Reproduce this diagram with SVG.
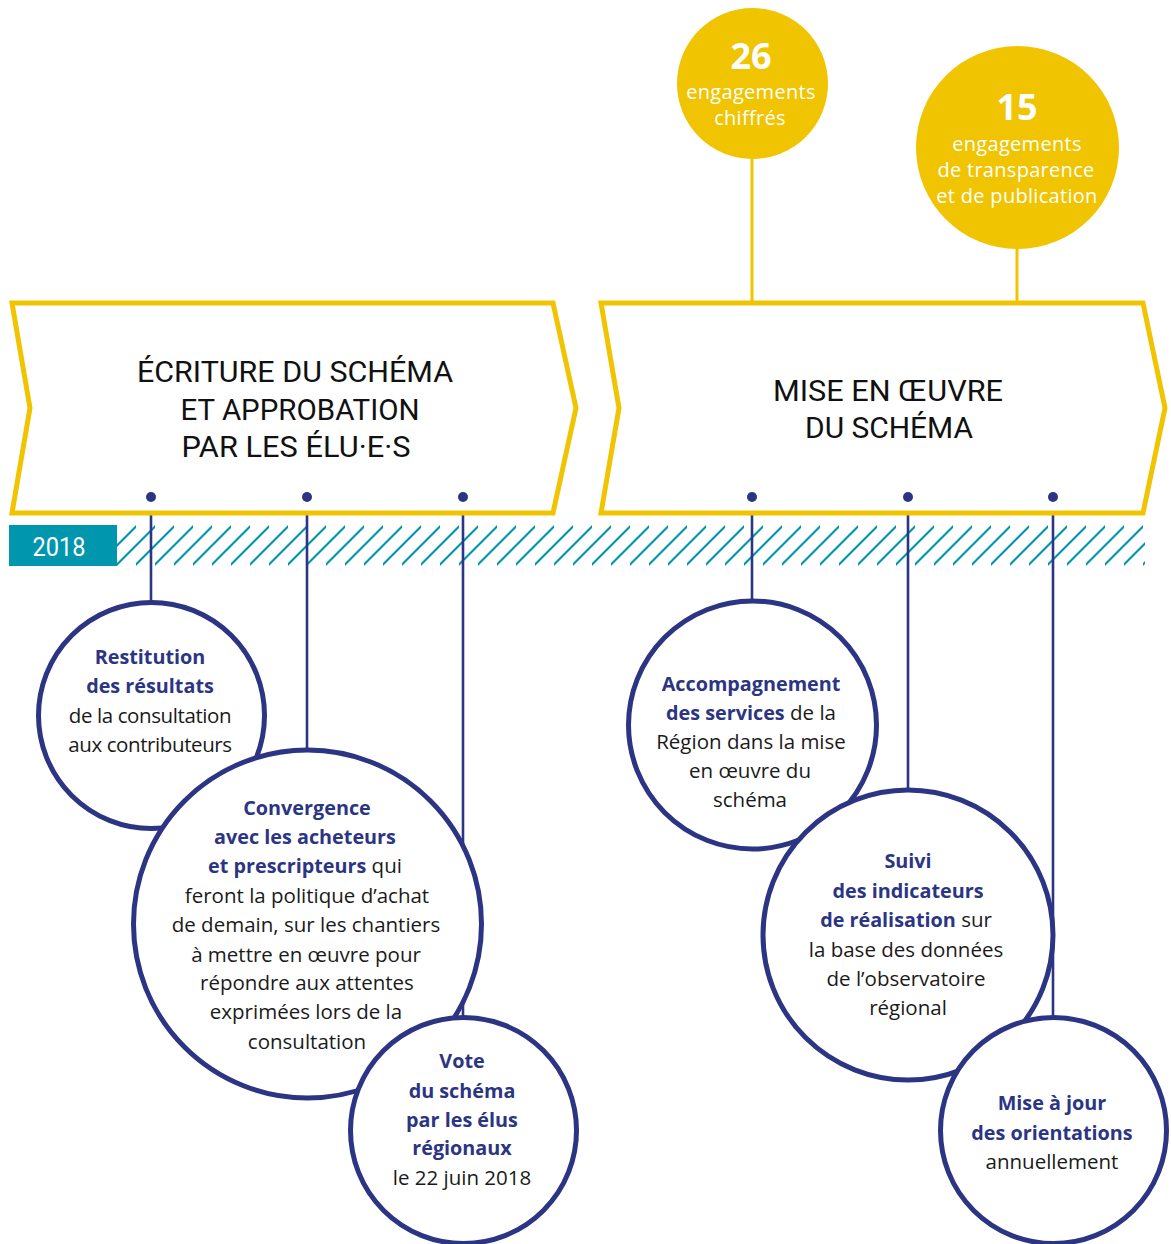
<svg xmlns="http://www.w3.org/2000/svg" width="1171" height="1244" viewBox="0 0 1171 1244">
<style>
.chev{fill:#fff;stroke:#f0c400;stroke-width:5;stroke-linejoin:miter}
.title{font-family:Roboto,"Liberation Sans",sans-serif;font-size:30px;fill:#111;text-anchor:middle}
.ycirc{fill:#f0c400}
.yline{stroke:#f0c400;stroke-width:3;fill:none}
.nline{stroke:#2b3583;stroke-width:2.6;fill:none}
.dot{fill:#2b3583}
.ncirc{fill:#fff;stroke:#2b3583;stroke-width:5}
.big{font-family:"Open Sans","Noto Sans",sans-serif;font-weight:bold;font-size:36px;fill:#fff;text-anchor:middle}
.ytxt{font-family:"Open Sans","Noto Sans",sans-serif;font-size:20px;letter-spacing:0.3px;fill:#fff;text-anchor:middle}
.t{font-family:"Open Sans","Noto Sans",sans-serif;font-size:20.5px;fill:#1a1a1a;text-anchor:middle}
.b{font-weight:bold;fill:#2b3583;font-size:19.8px}
.tight{letter-spacing:-0.4px}
</style>
<defs>
<pattern id="hatch" patternUnits="userSpaceOnUse" x="117" y="525" width="19" height="41">
<line x1="-20.5" y1="41" x2="20.5" y2="0" stroke="#0096ae" stroke-width="2"/>
<line x1="-1.5" y1="41" x2="39.5" y2="0" stroke="#0096ae" stroke-width="2"/>
</pattern>
</defs>

<g id="band">
<rect x="117" y="525" width="1028" height="41" fill="url(#hatch)"/>
<rect x="9" y="525" width="108" height="41" fill="#0096ae"/>
<text x="59" y="556" font-family="Roboto,'Liberation Sans',sans-serif" font-size="25" fill="#fff" text-anchor="middle" textLength="53" lengthAdjust="spacingAndGlyphs">2018</text>
</g>

<g id="connectors">
<line class="yline" x1="752" y1="150" x2="752" y2="303"/>
<line class="yline" x1="1017" y1="240" x2="1017" y2="303"/>
<line class="nline" x1="151" y1="497" x2="151" y2="605"/>
<line class="nline" x1="307" y1="497" x2="307" y2="752"/>
<line class="nline" x1="463" y1="497" x2="463" y2="1020"/>
<line class="nline" x1="752" y1="497" x2="752" y2="603"/>
<line class="nline" x1="908" y1="497" x2="908" y2="792"/>
<line class="nline" x1="1053" y1="497" x2="1053" y2="1020"/>
</g>

<g id="phase1">
<path class="chev" d="M12,303 L553,303 L576,408 L553,513 L12,513 L30,408 Z"/>
<text class="title" x="295" y="382" textLength="316" lengthAdjust="spacingAndGlyphs">ÉCRITURE DU SCHÉMA</text>
<text class="title" x="300" y="420" textLength="239" lengthAdjust="spacingAndGlyphs">ET APPROBATION</text>
<text class="title" x="296" y="457" textLength="229" lengthAdjust="spacingAndGlyphs">PAR LES ÉLU·E·S</text>
<circle class="dot" cx="151" cy="497" r="5"/>
<circle class="dot" cx="307" cy="497" r="5"/>
<circle class="dot" cx="463" cy="497" r="5"/>
</g>

<g id="phase2">
<path class="chev" d="M601,303 L1143,303 L1165,408 L1143,513 L601,513 L619,408 Z"/>
<text class="title" x="888" y="401" textLength="230" lengthAdjust="spacingAndGlyphs">MISE EN ŒUVRE</text>
<text class="title" x="889" y="438" textLength="168" lengthAdjust="spacingAndGlyphs">DU SCHÉMA</text>
<circle class="dot" cx="752" cy="497" r="5"/>
<circle class="dot" cx="908" cy="497" r="5"/>
<circle class="dot" cx="1053" cy="497" r="5"/>
</g>

<g id="n26">
<circle class="ycirc" cx="752.5" cy="83.5" r="75.5"/>
<text class="big" x="751" y="69">26</text>
<text class="ytxt" x="751" y="99">engagements</text>
<text class="ytxt" x="750" y="125">chiffrés</text>
</g>

<g id="n15">
<circle class="ycirc" cx="1017.5" cy="147.5" r="101.5"/>
<text class="big" x="1017" y="120">15</text>
<text class="ytxt" x="1017" y="151">engagements</text>
<text class="ytxt" x="1016" y="177">de transparence</text>
<text class="ytxt" x="1017" y="203">et de publication</text>
</g>

<g id="restitution">
<circle class="ncirc" cx="151.5" cy="715.5" r="113"/>
<text class="t" x="150" y="664"><tspan class="b">Restitution</tspan></text>
<text class="t" x="150" y="693"><tspan class="b">des résultats</tspan></text>
<text class="t tight" x="150" y="723">de la consultation</text>
<text class="t tight" x="150" y="752">aux contributeurs</text>
</g>

<g id="convergence">
<circle class="ncirc" cx="307.5" cy="924" r="174"/>
<text class="t" x="307" y="815"><tspan class="b">Convergence</tspan></text>
<text class="t" x="305" y="844"><tspan class="b">avec les acheteurs</tspan></text>
<text class="t" x="305" y="873"><tspan class="b">et prescripteurs</tspan> qui</text>
<text class="t" x="307" y="903">feront la politique d’achat</text>
<text class="t" x="306" y="932">de demain, sur les chantiers</text>
<text class="t" x="306" y="962">à mettre en œuvre pour</text>
<text class="t" x="307" y="990">répondre aux attentes</text>
<text class="t" x="306" y="1019">exprimées lors de la</text>
<text class="t" x="307" y="1049">consultation</text>
</g>

<g id="vote">
<circle class="ncirc" cx="463.5" cy="1130.5" r="113"/>
<text class="t" x="462" y="1068"><tspan class="b">Vote</tspan></text>
<text class="t" x="462" y="1098"><tspan class="b">du schéma</tspan></text>
<text class="t" x="462" y="1127"><tspan class="b">par les élus</tspan></text>
<text class="t" x="462" y="1155"><tspan class="b">régionaux</tspan></text>
<text class="t" x="462" y="1185">le 22 juin 2018</text>
</g>

<g id="accompagnement">
<circle class="ncirc" cx="752.5" cy="725" r="124"/>
<text class="t" x="751" y="691"><tspan class="b">Accompagnement</tspan></text>
<text class="t" x="751" y="720"><tspan class="b">des services</tspan> de la</text>
<text class="t" x="751" y="749">Région dans la mise</text>
<text class="t" x="750" y="778">en œuvre du</text>
<text class="t" x="750" y="807">schéma</text>
</g>

<g id="suivi">
<circle class="ncirc" cx="908" cy="935" r="145"/>
<text class="t" x="908" y="868"><tspan class="b">Suivi</tspan></text>
<text class="t" x="908" y="898"><tspan class="b">des indicateurs</tspan></text>
<text class="t" x="906" y="927"><tspan class="b">de réalisation</tspan> sur</text>
<text class="t" x="906" y="957">la base des données</text>
<text class="t" x="906" y="986">de l’observatoire</text>
<text class="t" x="908" y="1015">régional</text>
</g>

<g id="miseajour">
<circle class="ncirc" cx="1053.5" cy="1130.5" r="113"/>
<text class="t" x="1052" y="1110"><tspan class="b">Mise à jour</tspan></text>
<text class="t" x="1052" y="1140"><tspan class="b">des orientations</tspan></text>
<text class="t" x="1052" y="1169">annuellement</text>
</g>
</svg>
